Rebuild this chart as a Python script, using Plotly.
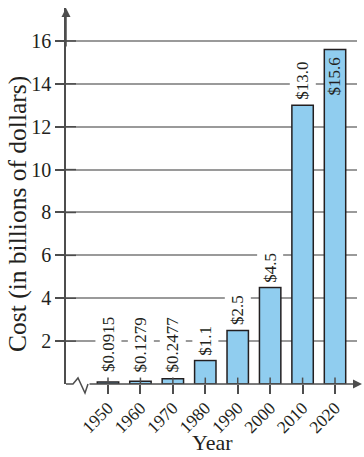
import plotly.graph_objects as go

years = ["1950", "1960", "1970", "1980", "1990", "2000", "2010", "2020"]
costs = [0.0915, 0.1279, 0.2477, 1.1, 2.5, 4.5, 13.0, 15.6]
labels = ["$0.0915", "$0.1279", "$0.2477", "$1.1", "$2.5", "$4.5", "$13.0", "$15.6"]
inside_label = [False, False, False, False, False, False, False, True]
y_ticks = [2, 4, 6, 8, 10, 12, 14, 16]

W, H = 364, 457
ML, MR, MT, MB = 66, 7, 8, 73
PW, PH = W - ML - MR, H - MT - MB
YMAX = PH / 21.44
XR = [-1.295, 7.678]

FONT = "Liberation Serif"
TXT = "#231f20"
AX = "#4d4d4d"
BAR = "#90cdef"

def px_x(p):  # pixel -> paper x
    return (p - ML) / PW

def px_y(p):  # pixel -> paper y
    return (H - MB - p) / PH

idx = list(range(len(years)))

fig = go.Figure()
fig.add_trace(go.Bar(
    x=idx, y=costs, width=0.66,
    marker=dict(color=BAR, line=dict(color=TXT, width=1.5)),
    hoverinfo="skip",
))

annotations = []
for i, v, lab, ins in zip(idx, costs, labels, inside_label):
    if ins:
        annotations.append(dict(x=i, y=v, xref="x", yref="y", text=lab, showarrow=False,
                                textangle=-90, yanchor="top", xanchor="center", yshift=-6,
                                font=dict(family=FONT, size=17, color=TXT)))
    else:
        annotations.append(dict(x=i, y=max(v, 0.3), xref="x", yref="y", text=lab, showarrow=False,
                                textangle=-90, yanchor="bottom", xanchor="center", yshift=1,
                                bgcolor="white", borderpad=3,
                                font=dict(family=FONT, size=17, color=TXT)))

# axis titles
annotations.append(dict(x=0, y=px_y(214), xref="paper", yref="paper", text="Cost (in billions of dollars)",
                        showarrow=False, textangle=-90, xanchor="center", yanchor="middle", xshift=-49,
                        font=dict(family=FONT, size=25.5, color=TXT)))
annotations.append(dict(x=px_x(212), y=0, xref="paper", yref="paper", text="Year",
                        showarrow=False, xanchor="center", yanchor="bottom", yshift=-(MB - 1),
                        borderpad=0, font=dict(family=FONT, size=22, color=TXT)))
# axis arrows
annotations.append(dict(x=0, y=1, xref="paper", yref="paper", text="", showarrow=True,
                        ax=0, ay=40, axref="pixel", ayref="pixel", arrowhead=2, arrowsize=1.2,
                        arrowwidth=1.5, arrowcolor=AX))
annotations.append(dict(x=px_x(362), y=0, xref="paper", yref="paper", text="", showarrow=True,
                        ax=-(362 - 88), ay=0, axref="pixel", ayref="pixel", arrowhead=2, arrowsize=1.2,
                        arrowwidth=1.5, arrowcolor=AX))

shapes = []
# x axis start segment and break zigzag
zig = [(66, 384), (73, 384), (78, 378), (85, 393), (88, 384)]
path = "M " + " L ".join(f"{px_x(a)},{px_y(b)}" for a, b in zig)
shapes.append(dict(type="path", path=path, xref="paper", yref="paper",
                   line=dict(color=AX, width=1.5), layer="above"))
# inside x ticks
for i in idx:
    shapes.append(dict(type="line", xref="x", yref="y", x0=i, x1=i, y0=0, y1=0.3,
                       line=dict(color=AX, width=1.5), layer="above"))
# inside y ticks
for t in y_ticks:
    shapes.append(dict(type="line", xref="paper", yref="y", x0=0, x1=px_x(76), y0=t, y1=t,
                       line=dict(color=AX, width=1.5), layer="above"))

fig.update_layout(
    width=W, height=H,
    margin=dict(l=ML, r=MR, t=MT, b=MB),
    paper_bgcolor="white", plot_bgcolor="white",
    showlegend=False,
    annotations=annotations,
    shapes=shapes,
    xaxis=dict(range=XR, tickvals=idx, ticktext=years, showgrid=False, zeroline=False, showline=False,
               ticks="outside", ticklen=9, tickwidth=1.5, tickcolor=AX, tickangle=-45,
               ticklabelstandoff=-3,
               tickfont=dict(family=FONT, size=17.5, color=TXT), fixedrange=True),
    yaxis=dict(range=[0, YMAX], tickvals=y_ticks, ticktext=[str(t) for t in y_ticks],
               showgrid=True, gridcolor="#9a9a9a", gridwidth=1.5, zeroline=False,
               showline=True, linecolor=AX, linewidth=1.5,
               ticks="outside", ticklen=9, tickwidth=1.5, tickcolor=AX,
               tickfont=dict(family=FONT, size=20, color=TXT), fixedrange=True),
)

fig.write_html("out.html")
